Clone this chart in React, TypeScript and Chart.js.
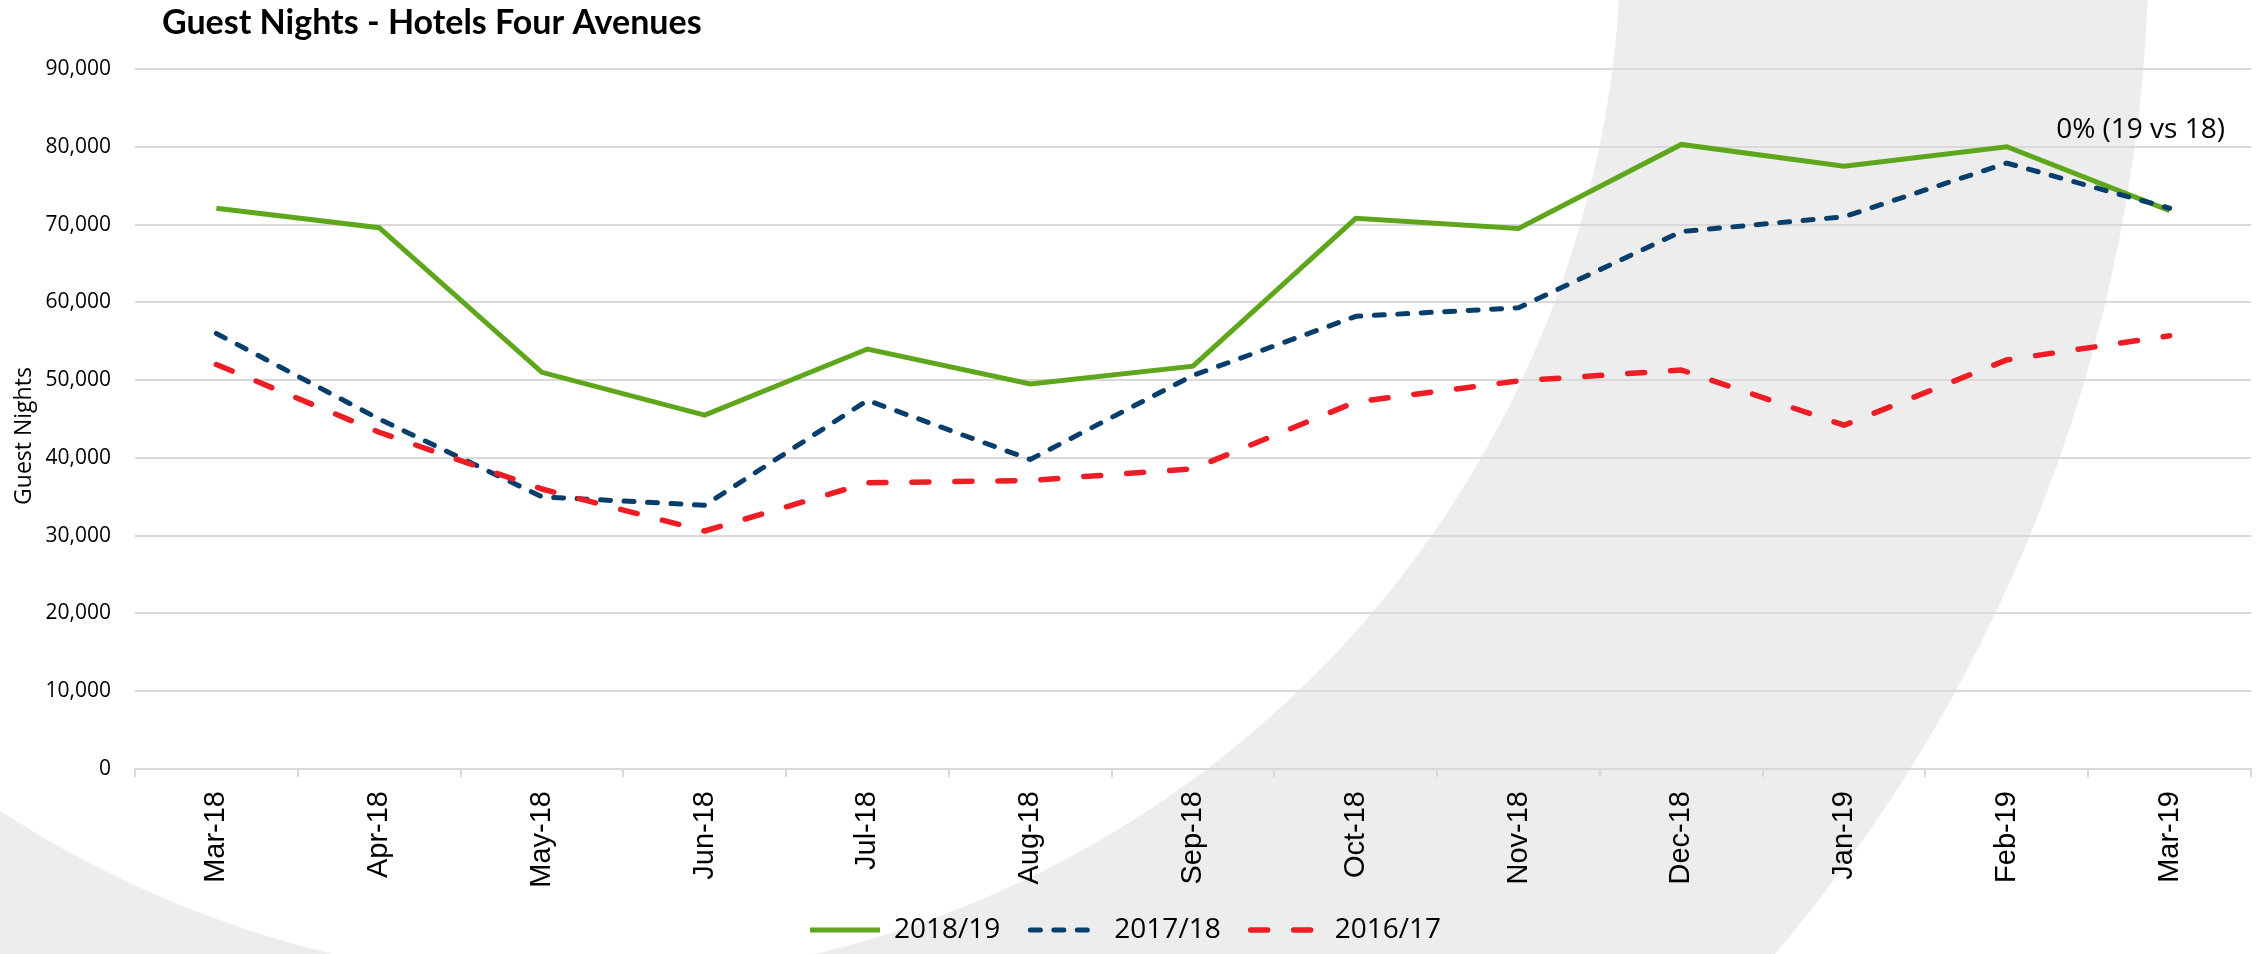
import React, { useEffect, useRef } from 'react';
import { Chart, registerables } from 'chart.js';

Chart.register(...registerables);

const months = ['Mar-18', 'Apr-18', 'May-18', 'Jun-18', 'Jul-18', 'Aug-18', 'Sep-18', 'Oct-18', 'Nov-18', 'Dec-18', 'Jan-19', 'Feb-19', 'Mar-19'];
const nights2018_19 = [72100, 69600, 51000, 45500, 54000, 49500, 51800, 70800, 69500, 80300, 77500, 80000, 71800];
const nights2017_18 = [56000, 45000, 35000, 33900, 47400, 39800, 50600, 58200, 59300, 69100, 71000, 77900, 72100];
const nights2016_17 = [52000, 43300, 36000, 30600, 36800, 37100, 38600, 47200, 49900, 51300, 44200, 52600, 55700];
const seriesLabels = ['2018/19', '2017/18', '2016/17'];
const chartTitle = 'Guest Nights - Hotels Four Avenues';
const axisTitle = 'Guest Nights';
const noteText = '0% (19 vs 18)';
const noteValue = 82200;
const yMin = 0;
const yMax = 90000;
const yStep = 10000;

const W = 2267;
const H = 954;

export default function App() {
  const ref = useRef<HTMLCanvasElement | null>(null);

  useEffect(() => {
    if (!ref.current) return;

    const background = {
      id: 'ringBackground',
      beforeDraw(chart: any) {
        const ctx = chart.ctx;
        ctx.save();
        ctx.fillStyle = '#ffffff';
        ctx.fillRect(0, 0, chart.width, chart.height);
        ctx.fillStyle = '#ededed';
        ctx.beginPath();
        ctx.arc(574, -65, 1575, 0, Math.PI * 2, false);
        ctx.arc(574, -65, 1047, 0, Math.PI * 2, true);
        ctx.fill();
        ctx.restore();
      },
    };

    const texts = {
      id: 'extraTexts',
      afterDraw(chart: any) {
        const ctx = chart.ctx;
        const area = chart.chartArea;
        const y = chart.scales.y;
        ctx.save();
        ctx.fillStyle = '#000000';
        ctx.font = 'bold 34px Lato';
        ctx.textAlign = 'left';
        ctx.textBaseline = 'alphabetic';
        ctx.fillText(chartTitle, 162, 34);

        ctx.font = '28px "Open Sans"';
        ctx.textAlign = 'right';
        ctx.textBaseline = 'middle';
        ctx.fillText(noteText, area.right - 26, y.getPixelForValue(noteValue));

        ctx.translate(24, (area.top + area.bottom) / 2 + 17);
        ctx.rotate(-Math.PI / 2);
        ctx.font = '23px "Open Sans"';
        ctx.textAlign = 'center';
        ctx.textBaseline = 'middle';
        ctx.fillText(axisTitle, 0, 0);
        ctx.restore();
      },
    };

    const chart = new Chart(ref.current, {
      type: 'line',
      data: {
        labels: months,
        datasets: [
          {
            label: seriesLabels[0],
            data: nights2018_19,
            borderColor: '#5ea61b',
            backgroundColor: '#5ea61b',
            borderWidth: 5,
            pointRadius: 0,
            tension: 0,
            borderCapStyle: 'butt',
            borderJoinStyle: 'miter',
            order: 3,
          },
          {
            label: seriesLabels[1],
            data: nights2017_18,
            borderColor: '#073e6b',
            backgroundColor: '#073e6b',
            borderWidth: 5,
            borderDash: [10, 13.5],
            borderCapStyle: 'round',
            borderJoinStyle: 'round',
            pointRadius: 0,
            tension: 0,
            order: 2,
          },
          {
            label: seriesLabels[2],
            data: nights2016_17,
            borderColor: '#ee1d25',
            backgroundColor: '#ee1d25',
            borderWidth: 5.5,
            borderDash: [17, 26],
            borderCapStyle: 'round',
            borderJoinStyle: 'round',
            pointRadius: 0,
            tension: 0,
            order: 1,
          },
        ],
      },
      options: {
        responsive: false,
        maintainAspectRatio: false,
        animation: false,
        devicePixelRatio: 1,
        layout: { padding: { top: 69, right: 16, left: 0, bottom: 0 } },
        plugins: {
          title: { display: false },
          tooltip: { enabled: false },
          legend: {
            display: true,
            position: 'bottom',
            labels: {
              usePointStyle: true,
              pointStyle: 'line',
              pointStyleWidth: 70,
              padding: 30,
              color: '#000000',
              font: { family: 'Open Sans', size: 28 },
              sort: (a: any, b: any) => a.datasetIndex - b.datasetIndex,
              generateLabels: (c: any) => {
                const items = (Chart as any).defaults.plugins.legend.labels.generateLabels(c);
                return items.map((it: any) => {
                  const ds = c.data.datasets[it.datasetIndex];
                  return {
                    ...it,
                    pointStyle: 'line',
                    strokeStyle: ds.borderColor,
                    fillStyle: ds.borderColor,
                    lineWidth: ds.borderWidth,
                    lineDash: ds.borderDash || [],
                    lineCap: ds.borderCapStyle || 'butt',
                  };
                });
              },
            },
          },
        },
        scales: {
          x: {
            type: 'category',
            offset: true,
            grid: {
              display: true,
              drawOnChartArea: false,
              drawTicks: true,
              tickLength: 8,
              color: '#d9d9d9',
              lineWidth: 2,
              offset: true,
            },
            border: { display: true, color: '#d9d9d9', width: 2 },
            ticks: {
              minRotation: 90,
              maxRotation: 90,
              autoSkip: false,
              padding: 14,
              color: '#000000',
              font: { family: 'Liberation Sans', size: 29 },
            },
            afterFit: (s: any) => {
              s.height = 117;
            },
          },
          y: {
            min: yMin,
            max: yMax,
            ticks: {
              stepSize: yStep,
              padding: 24,
              color: '#000000',
              font: { family: 'Open Sans', size: 21 },
              callback: (v: any) => Number(v).toLocaleString('en-US'),
            },
            grid: { color: '#d9d9d9', lineWidth: 2, drawTicks: false },
            border: { display: false },
            title: { display: false },
            afterFit: (s: any) => {
              s.width = 135;
            },
          },
        },
      },
      plugins: [background, texts],
    } as any);

    return () => chart.destroy();
  }, []);

  return (
    <div style={{ position: 'fixed', left: 0, top: 0, width: W, height: H, background: '#ffffff' }}>
      <canvas ref={ref} width={W} height={H} style={{ display: 'block', width: W, height: H }} />
    </div>
  );
}
